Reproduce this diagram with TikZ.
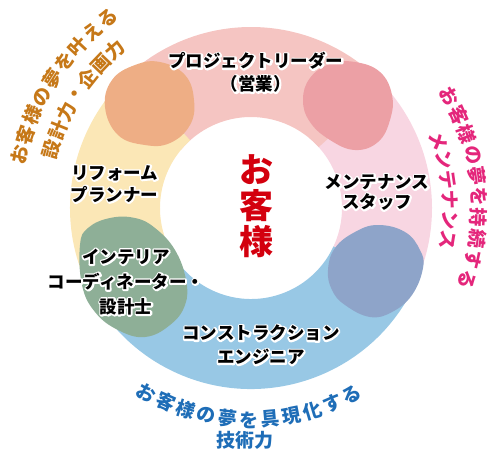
\documentclass[tikz,border=0pt]{standalone}
\usepackage{fontspec}
\setmainfont{Noto Sans CJK JP}
\definecolor{salmonband}{HTML}{F5C5C2}
\definecolor{pinkband}{HTML}{F8D6E2}
\definecolor{blueband}{HTML}{98C8E5}
\definecolor{yellowband}{HTML}{FBE7B6}
\definecolor{orangeblob}{HTML}{EEAE85}
\definecolor{roseblob}{HTML}{ECA0A5}
\definecolor{purpleblob}{HTML}{8EA4C9}
\definecolor{greenblob}{HTML}{8EAF97}
\definecolor{orangetext}{HTML}{C67818}
\definecolor{pinktext}{HTML}{E4267B}
\definecolor{bluetext}{HTML}{1E6DB7}
\definecolor{redtext}{HTML}{D3000E}
% white halo: one stroked white copy under the black text
\newcommand\glow[1]{\leavevmode\rlap{\color{white}\special{pdf:literal direct 1 1 1 RG 3.4 w 1 j 2 Tr}#1\special{pdf:literal direct 0 Tr 0.4 w}}#1}
\tikzset{
  bandfill/.style={fill=#1},
  blobfill/.style={fill=#1},
  label/.style={inner sep=0pt, align=center, text=black, font=\bfseries\fontsize{17.5}{23}\selectfont},
  arcchar/.style={inner sep=0pt, font=\bfseries\fontsize{19}{19}\selectfont},
}
\newcommand\band[3]{\fill[bandfill=#1] (#2:181) arc[start angle=#2,end angle=#3,radius=181] -- (#3:91) arc[start angle=#3,end angle=#2,radius=91] -- cycle;}
% #1 prefix, #2 colour, #3 radius, #4 start angle, #5 step, #6 rotation offset, #7 chars
\newcommand\arcline[7]{\foreach \ch [count=\i] in {#7}{\pgfmathsetmacro\ang{#4+(\i-1)*(#5)}\node[arcchar,text=#2,rotate=\ang+#6] (#1\i) at (\ang:#3) {\ch};}}
\begin{document}
\begin{tikzpicture}[x=1pt,y=1pt]
\useasboundingbox (-251,-251) rectangle (249,208);
% ring bands
\band{pinkband}{50}{-30}
\band{salmonband}{140}{42}
\band{yellowband}{205}{132}
\band{blueband}{-25}{-155}
% blobs
\fill[blobfill=orangeblob] plot[smooth cycle, tension=0.7] coordinates {(-146,101) (-139,128) (-116,143) (-91,146) (-66,133) (-57,108) (-61,83) (-81,65) (-106,63) (-133,73)};
\fill[blobfill=roseblob] plot[smooth cycle, tension=0.7] coordinates {(52,108) (59,130) (79,144) (104,146) (129,136) (141,113) (139,88) (127,66) (104,58) (79,68) (59,86)};
\fill[blobfill=purpleblob] plot[smooth cycle, tension=0.7] coordinates {(77,-62) (84,-40) (104,-24) (127,-17) (154,-24) (169,-42) (172,-60) (161,-87) (141,-104) (119,-109) (94,-97) (81,-82)};
\fill[blobfill=greenblob] plot[smooth cycle, tension=0.7] coordinates {(-171,-37) (-163,-20) (-141,-10) (-116,-10) (-96,-20) (-76,-42) (-65,-72) (-66,-97) (-81,-117) (-106,-129) (-133,-122) (-156,-104) (-169,-77)};
% labels
\node[label] (leader) at (5,135.5) {\glow{プロジェクトリーダー}\\\glow{（営業）}};
\node[label, font=\bfseries\fontsize{17.5}{20}\selectfont] (maint) at (126,15.5) {\glow{メンテナンス}\\\glow{スタッフ}};
\node[label, font=\bfseries\fontsize{17.5}{22}\selectfont] (reform) at (-136.5,24) {\glow{リフォーム}\\\glow{プランナー}};
\node[label, font=\bfseries\fontsize{17.5}{25}\selectfont] (interior) at (-125,-74) {\glow{インテリア}\\\glow{コーディネーター・}\\\glow{設計士}};
\node[label, font=\bfseries\fontsize{17.5}{24}\selectfont] (constr) at (10,-137) {\glow{コンストラクション}\\\glow{エンジニア}};
\node[inner sep=0pt, align=center, text=redtext, font=\bfseries\fontsize{34}{36}\selectfont] (client) at (5,2) {お\\客\\様};
% curved outer texts
\arcline{oa}{orangetext}{237}{167}{-5}{-90}{お,客,様,の,夢,を,叶,え,る}
\arcline{ob}{orangetext}{208}{163.5}{-5.47}{-90}{設,計,力,・,企,画,力}
\arcline{pa}{pinktext}{228}{29.4}{-5.31}{-90}{お,客,様,の,夢,を,持,続,す,る}
\arcline{pb}{pinktext}{199}{19.8}{-5.82}{-90}{メ,ン,テ,ナ,ン,ス}
\arcline{ba}{bluetext}{212}{-119.5}{5.78}{90}{お,客,様,の,夢,を,具,現,化,す,る}
\node[arcchar, text=bluetext] (tech) at (-6,-232) {技術力};
\end{tikzpicture}
\end{document}
